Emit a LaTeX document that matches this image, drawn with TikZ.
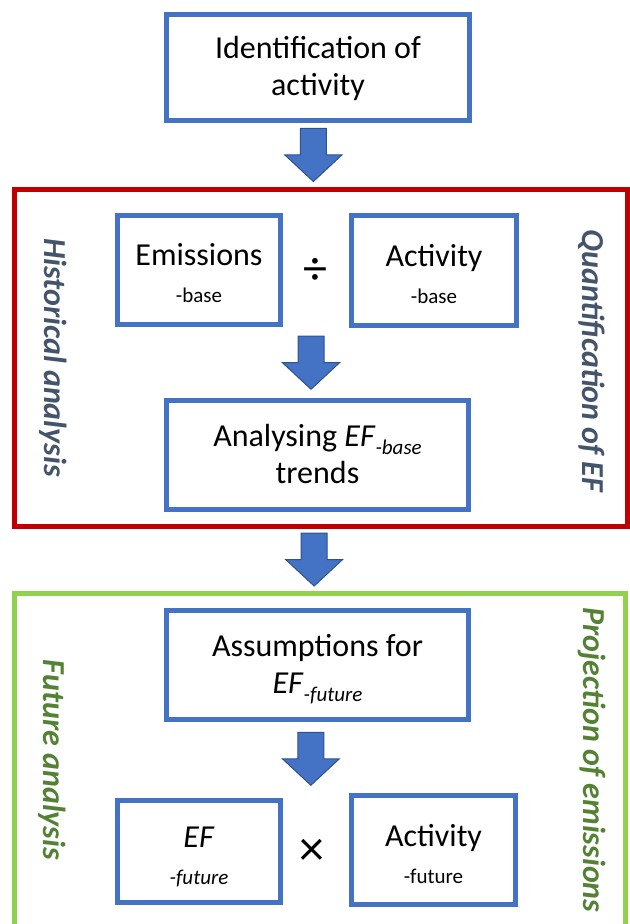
\documentclass[tikz,border=0pt]{standalone}
\usepackage{fontspec}
\setmainfont{Carlito}
\usepackage{tikz}
\definecolor{boxblue}{HTML}{4472C4}
\definecolor{arrowedge}{HTML}{2F528F}
\definecolor{histred}{HTML}{C00000}
\definecolor{futgreen}{HTML}{92D050}
\definecolor{slatetext}{HTML}{44546A}
\definecolor{greentext}{HTML}{548235}
\newcommand\lowsub[1]{\raisebox{-4pt}{\fontsize{10.5}{12}\selectfont\itshape #1}}
\newcommand\smallline[1]{{\fontsize{10.5}{12}\selectfont #1}}
\usetikzlibrary {calc}

\begin{document}
\begin{tikzpicture}[x=0.5pt,y=-0.5pt,every node/.style={inner sep=0pt,align=center,font=\fontsize{16}{18.5}\selectfont},flowbox/.style={draw=boxblue,line width=2.5pt,fill=white},twoline/.style={text height=28.5pt,text depth=0pt},subline/.style={text height=33pt,text depth=0pt},frame/.style={line width=2.5pt},sidelabel/.style={rotate=-90,font=\fontsize{16}{18}\selectfont\bfseries\itshape},bigarrow/.style={draw=arrowedge,fill=boxblue,line width=0.5pt,to path={let \p1=($(\tikztostart)!.5!(\tikztotarget)$) in (\x1-9.5pt,\y1+13.25pt) -- (\x1+3.5pt,\y1+13.25pt) -- (\x1+3.5pt,\y1) -- (\x1+11.25pt,\y1) -- (\x1-3pt,\y1-13.25pt) -- (\x1-17.25pt,\y1) -- (\x1-9.5pt,\y1) -- cycle}}]

\useasboundingbox (0,0) rectangle (630,924);

\node[frame,draw=histred,minimum width=306.75pt,minimum height=168.25pt] (hist) at (320.75,357.75) {};
\node[frame,draw=futgreen,minimum width=305.5pt,minimum height=178.5pt] (fut) at (319.5,771.5) {};

\node[sidelabel,text=slatetext] (histlab) at (53,357.5) {Historical analysis};
\node[sidelabel,text=slatetext] (quantlab) at (592,361) {Quantification of EF};
\node[sidelabel,text=greentext] (futlab) at (52,760) {Future analysis};
\node[sidelabel,text=greentext] (projlab) at (592,760) {Projection of emissions};

\node[flowbox,twoline,minimum width=151.5pt,minimum height=53pt] (ident) at (318,67.5) {Identification of\\activity};
\node[flowbox,subline,minimum width=81.5pt,minimum height=54.5pt] (emisb) at (199,270) {Emissions\\\smallline{-base}};
\node[flowbox,subline,minimum width=82.5pt,minimum height=55pt] (actb) at (434,270.5) {Activity\\\smallline{-base}};
\node (div) at (315,271) {\fontsize{24}{24}\selectfont ÷};
\node[flowbox,twoline,minimum width=151pt,minimum height=54.5pt] (analys) at (317.5,455) {Analysing \textit{EF}\lowsub{-base}\\trends};

\node[flowbox,twoline,minimum width=151pt,minimum height=54.5pt] (assum) at (317.5,665) {Assumptions for\\\textit{EF}\lowsub{-future}};
\node[flowbox,subline,minimum width=81.5pt,minimum height=51pt] (eff) at (199,851.5) {\textit{EF}\\\smallline{\itshape -future}};
\node[flowbox,subline,minimum width=82pt,minimum height=54.5pt] (actf) at (433.5,850) {Activity\\\smallline{-future}};
\node (times) at (312,852) {\fontsize{25}{25}\selectfont ×};

\draw[bigarrow] (ident.south) to (hist.north);
\draw[bigarrow] ($(emisb.south)!.5!(actb.south)$) to (analys.north);
\draw[bigarrow] (hist.south) to (fut.north);
\draw[bigarrow] (assum.south) to ($(eff.north)!.5!(actf.north)$);
\end{tikzpicture}
\end{document}
